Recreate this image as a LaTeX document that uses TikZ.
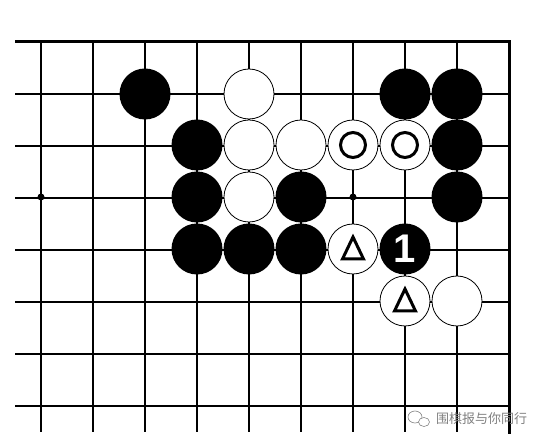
\documentclass[tikz,border=0pt]{standalone}
\usepackage{fontspec}
\newfontfamily\cjk{Noto Sans CJK SC}
\newfontfamily\numfont{Liberation Sans}
\begin{document}
\begin{tikzpicture}[x=1pt,y=-1pt,
  gridline/.style={line width=1.3pt, black},
  edgeline/.style={line width=3pt, black},
  bstone/.style={circle, fill=black, minimum size=51pt, inner sep=0pt},
  wstone/.style={circle, fill=white, draw=black, line width=0.8pt, minimum size=50pt, inner sep=0pt},
  markline/.style={line width=3pt, black, line join=miter},
  starpt/.style={circle, fill=black, minimum size=7pt, inner sep=0pt},
  wm/.style={black!50}]
\useasboundingbox (0,0) rectangle (550,446);
% grid
\foreach \i in {0,...,8} \draw[gridline] (41+52*\i,42) -- (41+52*\i,432);
\foreach \j in {1,...,7} \draw[gridline] (15,42+52*\j) -- (509,42+52*\j);
\draw[edgeline] (15,42) -- (509,42) -- (509,434);
\node[starpt] (s1) at (41,197) {};
\node[starpt] (s2) at (353,197) {};
% row 1
\node[bstone] (b21) at (145,94) {};
\node[wstone] (w41) at (249,94) {};
\node[bstone] (b71) at (405,94) {};
\node[bstone] (b81) at (457,94) {};
% row 2
\node[bstone] (b32) at (197,145) {};
\node[wstone] (w42) at (249,145) {};
\node[wstone] (w52) at (301,145) {};
\node[wstone] (w62) at (353,145) {};
\node[wstone] (w72) at (405,145) {};
\node[bstone] (b82) at (457,145) {};
% row 3
\node[bstone] (b33) at (197,197) {};
\node[wstone] (w43) at (249,197) {};
\node[bstone] (b53) at (301,197) {};
\node[bstone] (b83) at (457,197) {};
% row 4
\node[bstone] (b34) at (197,249) {};
\node[bstone] (b44) at (249,249) {};
\node[bstone] (b54) at (301,249) {};
\node[wstone] (w64) at (353,249) {};
\node[bstone, text=white] (m1) at (405,249) {\numfont\bfseries\fontsize{40}{40}\selectfont 1};
% row 5
\node[wstone] (w75) at (405,301) {};
\node[wstone] (w85) at (457,301) {};
% marks
\draw[markline] (w62.center) circle (12.5);
\draw[markline] (w72.center) circle (12.5);
\draw[markline] (w64.center) ++(0,-12) -- ++(10.5,22) -- ++(-21,0) -- cycle;
\draw[markline] (w75.center) ++(0,-12) -- ++(10.5,22) -- ++(-21,0) -- cycle;
% watermark
\draw[wm, line width=0.6pt, fill=white] (415,417) ellipse (7 and 6);
\draw[wm, line width=0.6pt, fill=white] (424,422) ellipse (5.5 and 4.5);
\node[wm, anchor=west, inner sep=0pt] (wmt) at (436,419) {\cjk\fontsize{13}{13}\selectfont 围棋报与你同行};
\end{tikzpicture}
\end{document}
